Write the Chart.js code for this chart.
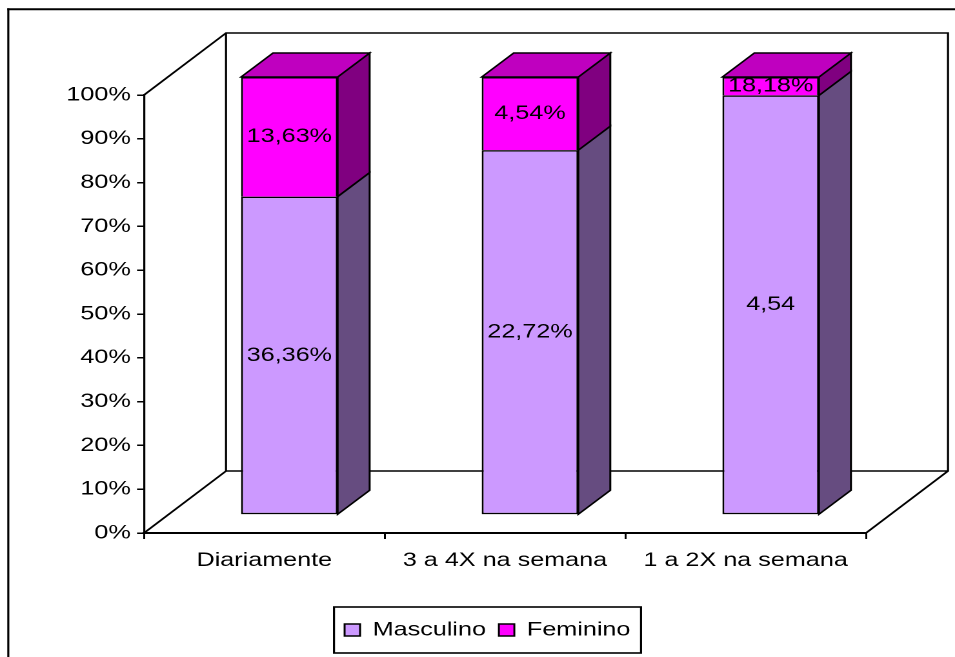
<!DOCTYPE html>
<html><head><meta charset="utf-8">
<script src="https://cdn.jsdelivr.net/npm/chart.js@4.4.1/dist/chart.umd.min.js"></script>
<style>
html,body{margin:0;padding:0;background:#fff;overflow:hidden;width:955px;height:657px}
#wrap{position:absolute;left:0;top:0;width:740px;height:657px;transform:scaleX(1.2905405);transform-origin:0 0}
</style></head><body>
<div id="wrap"><canvas id="c"></canvas></div>
<script>
// ---- data ----
const categories = ['Diariamente', '3 a 4X na semana', '1 a 2X na semana'];
const seriesNames = ['Masculino', 'Feminino'];
const masculino = [72.7, 83.3, 95.8];
const feminino = [27.3, 16.7, 4.2];
const masculinoLabels = ['36,36%', '22,72%', '4,54'];
const femininoLabels = ['13,63%', '4,54%', '18,18%'];
const yTickValues = [0, 10, 20, 30, 40, 50, 60, 70, 80, 90, 100];

// ---- style ----
const SX = 955 / 740;
const WALL = { dx: 82 / SX, dy: -62 };
const BAR3D = { dx: 32 / SX, dy: -24 };
const SHIFT = { dx: 25 / SX, dy: -18 };
const LEGEND_CENTER = 487.5 / SX;
const frontColors = ['#CC99FF', '#FF00FF'];
const sideColors = ['#664C80', '#800080'];
const topColors = ['#9973BF', '#BF00BF'];
const FONT_FAMILY = "'Liberation Sans', Arial, sans-serif";
const FONT_SIZE = 19.5;
const segLabels = [masculinoLabels, femininoLabels];

Chart.defaults.font.family = FONT_FAMILY;
Chart.defaults.font.size = FONT_SIZE;
Chart.defaults.color = '#000';

const threeD = {
  id: 'threeD',
  afterLayout(chart) {
    const lg = chart.legend;
    if (!lg) return;
    const d = LEGEND_CENTER - (lg.left + lg.right) / 2;
    lg.left += d; lg.right += d;
  },
  beforeDatasetsDraw(chart) {
    const { ctx, chartArea: a } = chart;
    ctx.save();
    ctx.lineWidth = 1.6; ctx.strokeStyle = '#000'; ctx.lineJoin = 'miter';
    const dx = WALL.dx, dy = WALL.dy;
    ctx.beginPath();
    ctx.moveTo(a.left, a.top); ctx.lineTo(a.left + dx, a.top + dy);
    ctx.lineTo(a.right + dx, a.top + dy); ctx.lineTo(a.right + dx, a.bottom + dy);
    ctx.lineTo(a.right, a.bottom);
    ctx.moveTo(a.left, a.bottom); ctx.lineTo(a.left + dx, a.bottom + dy); ctx.lineTo(a.right + dx, a.bottom + dy);
    ctx.moveTo(a.left + dx, a.top + dy); ctx.lineTo(a.left + dx, a.bottom + dy);
    ctx.stroke();
    ctx.restore();
    ctx.save();
    ctx.translate(SHIFT.dx, SHIFT.dy);
  },
  afterDatasetsDraw(chart) {
    const ctx = chart.ctx;
    const n = chart.data.datasets.length;
    ctx.lineWidth = 1.5; ctx.strokeStyle = '#000'; ctx.lineJoin = 'miter';
    const dx = BAR3D.dx, dy = BAR3D.dy;
    const texts = [];
    chart.data.datasets.forEach((ds, i) => {
      const meta = chart.getDatasetMeta(i);
      meta.data.forEach((el, j) => {
        const p = el.getProps(['x', 'y', 'base', 'width'], true);
        const l = p.x - p.width / 2, r = p.x + p.width / 2;
        const top = Math.min(p.y, p.base), bot = Math.max(p.y, p.base);
        ctx.beginPath();
        ctx.moveTo(r, bot); ctx.lineTo(r + dx, bot + dy); ctx.lineTo(r + dx, top + dy); ctx.lineTo(r, top); ctx.closePath();
        ctx.fillStyle = sideColors[i]; ctx.fill(); ctx.stroke();
        if (i === n - 1) {
          ctx.beginPath();
          ctx.moveTo(l, top); ctx.lineTo(l + dx, top + dy); ctx.lineTo(r + dx, top + dy); ctx.lineTo(r, top); ctx.closePath();
          ctx.fillStyle = topColors[i]; ctx.fill(); ctx.stroke();
        }
        texts.push([segLabels[i][j], p.x, (top + bot) / 2]);
      });
    });
    ctx.fillStyle = '#000';
    ctx.font = FONT_SIZE + 'px ' + FONT_FAMILY;
    ctx.textAlign = 'center'; ctx.textBaseline = 'middle';
    texts.forEach(t => ctx.fillText(t[0], t[1], t[2]));
    ctx.restore();
  },
  afterDraw(chart) {
    const ctx = chart.ctx;
    ctx.save();
    ctx.strokeStyle = '#000';
    ctx.lineWidth = 1.6;
    ctx.beginPath(); ctx.moveTo(8.3 / SX, 8.3); ctx.lineTo(8.3 / SX, 700); ctx.stroke();
    ctx.lineWidth = 2;
    ctx.beginPath(); ctx.moveTo(8.3 / SX - 0.8, 9.3); ctx.lineTo(800, 9.3); ctx.stroke();
    const hb = chart.legend.legendHitBoxes;
    if (hb && hb.length) {
      const first = hb[0], last = hb[hb.length - 1];
      const x1 = first.left - 8.2, x2 = last.left + last.width + 8.2;
      const cy = first.top + first.height / 2;
      ctx.lineWidth = 1.6;
      ctx.strokeRect(x1, cy - 23, x2 - x1, 46);
    }
    ctx.restore();
  }
};

const PAD_LEFT = 30;
const AREA_LEFT = 144 / SX;

new Chart(document.getElementById('c'), {
  type: 'bar',
  data: {
    labels: categories,
    datasets: [
      { label: seriesNames[0], data: masculino, backgroundColor: frontColors[0], borderColor: '#000', borderWidth: 1.5,
        borderSkipped: false, barPercentage: 0.4014, categoryPercentage: 1, clip: false },
      { label: seriesNames[1], data: feminino, backgroundColor: frontColors[1], borderColor: '#000', borderWidth: 1.5,
        borderSkipped: 'start', barPercentage: 0.4014, categoryPercentage: 1, clip: false }
    ]
  },
  options: {
    responsive: true, maintainAspectRatio: false, animation: false, devicePixelRatio: 2,
    layout: { padding: { left: PAD_LEFT, right: 740 - 866 / SX, top: 95, bottom: 7.25 } },
    plugins: {
      legend: { position: 'bottom', labels: { boxWidth: 12, boxHeight: 12, padding: 10, color: '#000' } },
      tooltip: { enabled: false }
    },
    scales: {
      x: {
        stacked: true, offset: true,
        grid: { offset: true, drawOnChartArea: false, drawTicks: true, tickLength: 6, color: '#000', lineWidth: 1.5 },
        border: { display: true, color: '#000', width: 2 },
        ticks: { padding: 10, maxRotation: 0, autoSkip: false, color: '#000' },
        afterFit: s => { s.height = 77.25; }
      },
      y: {
        stacked: true, min: 0, max: 100,
        afterBuildTicks: s => { s.ticks = yTickValues.map(v => ({ value: v })); },
        ticks: { callback: v => v + '%', padding: 4.9, color: '#000' },
        grid: { drawOnChartArea: false, drawTicks: true, tickLength: 5.4, color: '#000', lineWidth: 1.5 },
        border: { display: true, color: '#000', width: 1.6 },
        afterFit: s => { s.width = AREA_LEFT - PAD_LEFT; }
      }
    }
  },
  plugins: [threeD]
});
</script>
</body></html>
